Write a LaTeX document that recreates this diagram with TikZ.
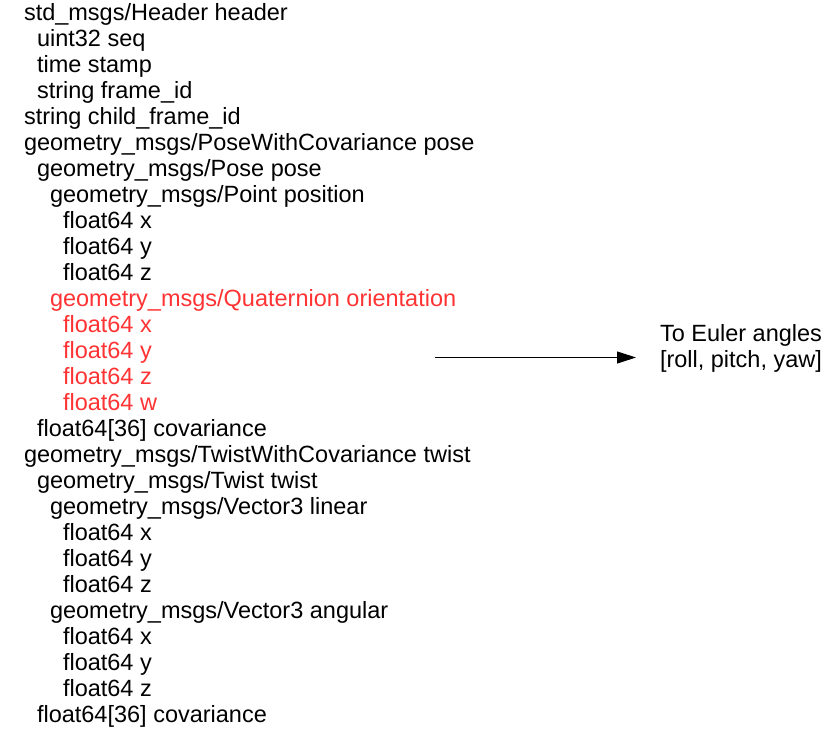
\documentclass[tikz,border=0pt]{standalone}
\usepackage{fontspec}
\setmainfont{Liberation Sans}
\usetikzlibrary{arrows.meta}
\definecolor{qred}{RGB}{255,51,51}
\tikzset{
  ln/.style={anchor=base west, inner sep=0pt, outer sep=0pt, font=\fontsize{23.5}{26}\selectfont},
  rln/.style={ln, text=qred},
  conv/.style={-{Triangle[length=19pt,width=12pt]}, line width=1pt, black}
}
\begin{document}
\begin{tikzpicture}[x=1pt,y=-1pt]
\useasboundingbox (0,0) rectangle (828,731);
\def\pitch{26.0}
\def\first{20.2}
\node[ln] (l0) at (24,{\first+0*\pitch}) {std\_msgs/Header header};
\node[ln] (l1) at (37,{\first+1*\pitch}) {uint32 seq};
\node[ln] (l2) at (37,{\first+2*\pitch}) {time stamp};
\node[ln] (l3) at (37,{\first+3*\pitch}) {string frame\_id};
\node[ln] (l4) at (24,{\first+4*\pitch}) {string child\_frame\_id};
\node[ln] (l5) at (24,{\first+5*\pitch}) {geometry\_msgs/PoseWithCovariance pose};
\node[ln] (l6) at (37,{\first+6*\pitch}) {geometry\_msgs/Pose pose};
\node[ln] (l7) at (50,{\first+7*\pitch}) {geometry\_msgs/Point position};
\node[ln] (l8) at (63,{\first+8*\pitch}) {float64 x};
\node[ln] (l9) at (63,{\first+9*\pitch}) {float64 y};
\node[ln] (l10) at (63,{\first+10*\pitch}) {float64 z};
\node[rln] (l11) at (50,{\first+11*\pitch}) {geometry\_msgs/Quaternion orientation};
\node[rln] (l12) at (63,{\first+12*\pitch}) {float64 x};
\node[rln] (l13) at (63,{\first+13*\pitch}) {float64 y};
\node[rln] (l14) at (63,{\first+14*\pitch}) {float64 z};
\node[rln] (l15) at (63,{\first+15*\pitch}) {float64 w};
\node[ln] (l16) at (37,{\first+16*\pitch}) {float64[36] covariance};
\node[ln] (l17) at (24,{\first+17*\pitch}) {geometry\_msgs/TwistWithCovariance twist};
\node[ln] (l18) at (37,{\first+18*\pitch}) {geometry\_msgs/Twist twist};
\node[ln] (l19) at (50,{\first+19*\pitch}) {geometry\_msgs/Vector3 linear};
\node[ln] (l20) at (63,{\first+20*\pitch}) {float64 x};
\node[ln] (l21) at (63,{\first+21*\pitch}) {float64 y};
\node[ln] (l22) at (63,{\first+22*\pitch}) {float64 z};
\node[ln] (l23) at (50,{\first+23*\pitch}) {geometry\_msgs/Vector3 angular};
\node[ln] (l24) at (63,{\first+24*\pitch}) {float64 x};
\node[ln] (l25) at (63,{\first+25*\pitch}) {float64 y};
\node[ln] (l26) at (63,{\first+26*\pitch}) {float64 z};
\node[ln] (l27) at (37,{\first+27*\pitch}) {float64[36] covariance};
\node[ln] (e1) at (660,341.5) {To Euler angles};
\node[ln] (e2) at (660,367.5) {[roll, pitch, yaw]};
\coordinate (as) at (435,357.5);
\coordinate (ae) at (636,357.5);
\draw[conv] (as) -- (ae);
\end{tikzpicture}
\end{document}
